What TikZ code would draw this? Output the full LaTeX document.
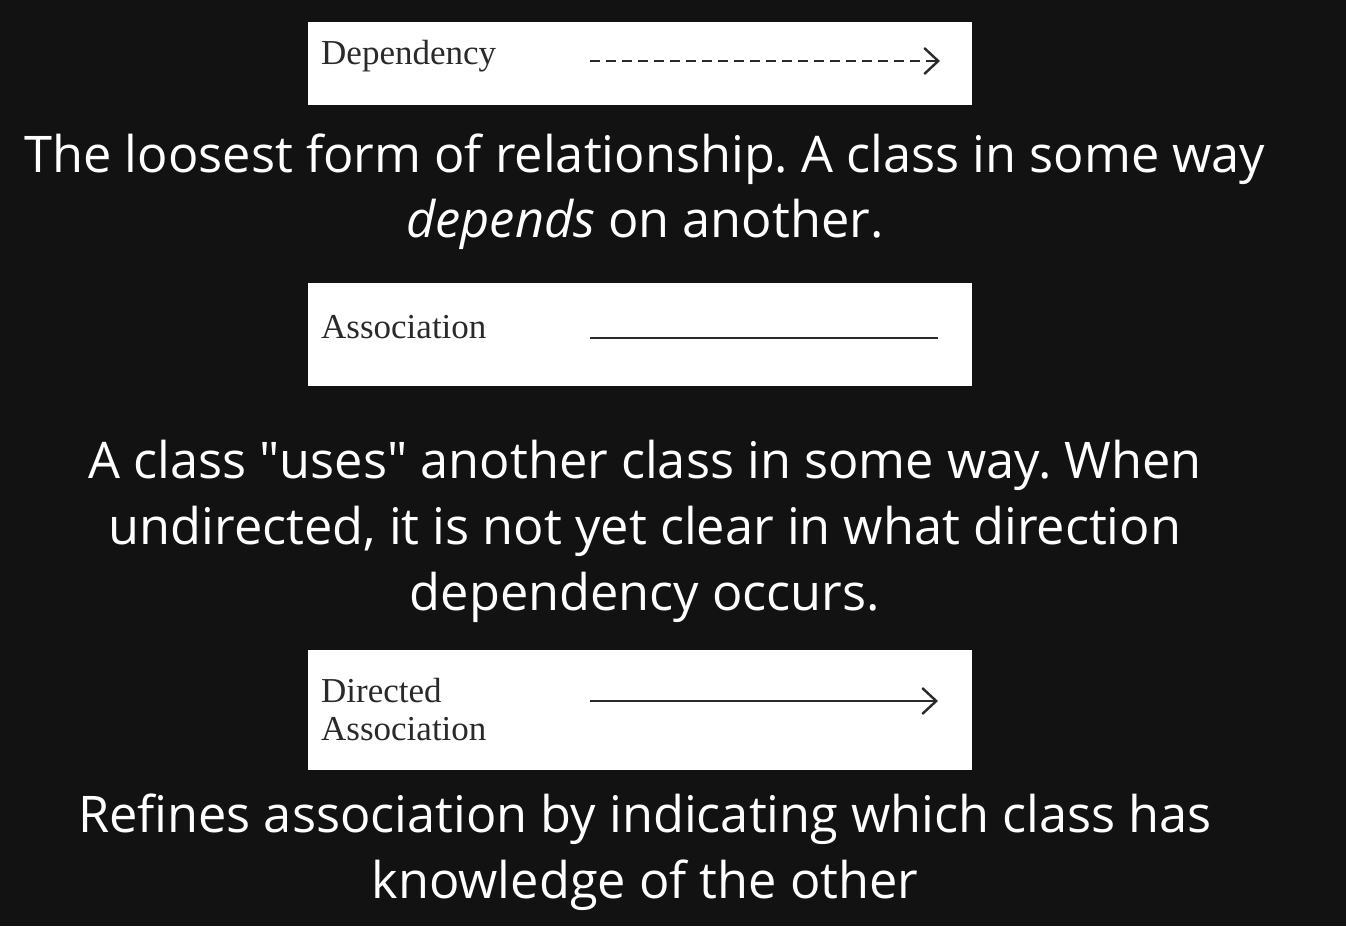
\documentclass[tikz,border=0pt]{standalone}
\usepackage{fontspec}
\setmainfont{Open Sans}
\newfontfamily\labelfont{Liberation Serif}
\usetikzlibrary{arrows.meta}
\definecolor{bg}{HTML}{121212}
\definecolor{ink}{HTML}{2A2A2A}
\frenchspacing
\begin{document}
\begin{tikzpicture}[x=1pt,y=-1pt,
  legendbox/.style={fill=white,draw=none},
  legendlabel/.style={anchor=base west,inner sep=0pt,text=ink,font=\labelfont\fontsize{35}{38}\selectfont,align=left},
  caption/.style={anchor=base,inner sep=0pt,text=white,font=\fontsize{50.5}{62}\selectfont},
  relline/.style={draw=ink,line width=2.4pt},
  chevron/.style={-{Straight Barb[length=14pt,width=26pt,line width=2.4pt]}}
]
\fill[bg] (0,0) rectangle (1346,926);
\useasboundingbox (0,0) rectangle (1346,926);

% legend panels
\fill[legendbox] (308,22) rectangle (972,105);
\fill[legendbox] (308,283) rectangle (972,386);
\fill[legendbox] (308,650) rectangle (972,770);

% dependency
\node[legendlabel] (deplab) at (321,64) {Dependency};
\coordinate (depA) at (590,61);
\coordinate (depB) at (940,61);
\draw[relline,chevron,dash pattern=on 10pt off 6pt] (depA) -- (depB);

% association
\node[legendlabel] (asslab) at (321,338) {Association};
\coordinate (assA) at (590,338);
\coordinate (assB) at (938,338);
\draw[relline] (assA) -- (assB);

% directed association
\node[legendlabel] (dirlab1) at (321,702) {Directed};
\node[legendlabel] (dirlab2) at (321,740) {Association};
\coordinate (dirA) at (590,701);
\coordinate (dirB) at (938,701);
\draw[relline,chevron] (dirA) -- (dirB);

% descriptions
\node[caption] (d1a) at (645,172) {The loosest form of relationship. A class in some way};
\node[caption] (d1b) at (645,237) {\textit{depends} on another.};

\node[caption] (d2a) at (645,478) {A class \textquotedbl uses\textquotedbl\ another class in some way. When};
\node[caption] (d2b) at (645,544) {undirected, it is not yet clear in what direction};
\node[caption] (d2c) at (645,610) {dependency occurs.};

\node[caption] (d3a) at (645,832) {Refines association by indicating which class has};
\node[caption] (d3b) at (645,898) {knowledge of the other};
\end{tikzpicture}
\end{document}
